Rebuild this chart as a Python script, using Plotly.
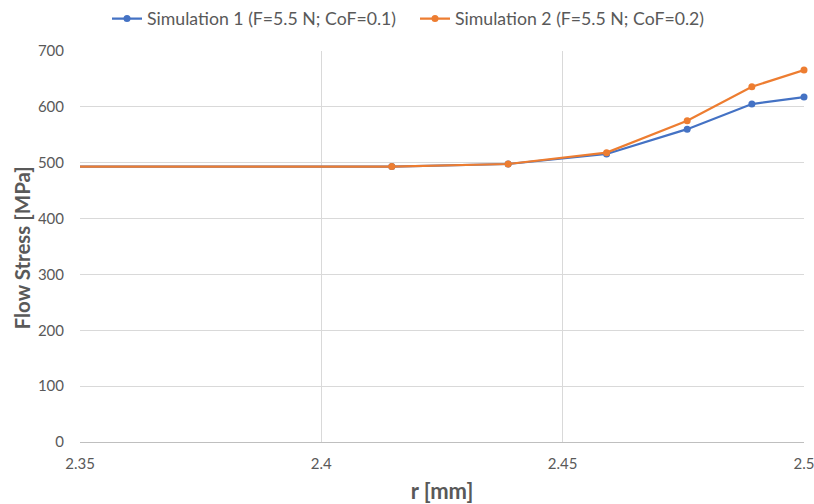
import plotly.graph_objects as go

r_vals = [2.30, 2.4146, 2.4387, 2.4591, 2.4758, 2.4892, 2.5]
sim1 = [493, 493, 497.7, 515.6, 560, 605, 617.6]
sim2 = [493, 493, 497.7, 518, 575, 636, 666]
names = ["Simulation 1 (F=5.5 N; CoF=0.1)", "Simulation 2 (F=5.5 N; CoF=0.2)"]
colors = ["#4472C4", "#ED7D31"]
x_ticks = [2.35, 2.4, 2.45, 2.5]
x_ticktext = ["2.35", "2.4", "2.45", "2.5"]
y_ticks = [0, 100, 200, 300, 400, 500, 600, 700]

FONT = "Lato"
GRAY = "#595959"

fig = go.Figure()
for name, ys, c in zip(names, [sim1, sim2], colors):
    fig.add_trace(go.Scatter(
        x=r_vals, y=ys, name=name, mode="lines+markers",
        line=dict(color=c, width=2.25),
        marker=dict(color=c, size=7),
        cliponaxis=False,
    ))

fig.update_layout(
    width=814, height=504,
    margin=dict(l=80, r=10, t=51, b=62),
    paper_bgcolor="white", plot_bgcolor="white",
    font=dict(family=FONT, color=GRAY, size=15),
    legend=dict(orientation="h", xref="container", x=107 / 814, xanchor="left",
                yref="container", y=1 - 19 / 504, yanchor="middle",
                font=dict(size=17.7, color=GRAY, family=FONT),
                itemwidth=30, entrywidth=263, entrywidthmode="pixels"),
    showlegend=True,
    annotations=[dict(
        text="<b>Flow Stress [MPa]</b>", textangle=-90,
        xref="paper", x=(21 - 80) / 724, xanchor="center",
        yref="paper", y=(442 - 248.5) / 391, yanchor="middle",
        showarrow=False, font=dict(size=20.5, color=GRAY, family=FONT),
    )],
)
fig.update_xaxes(
    range=[2.35, 2.5], tickvals=x_ticks, ticktext=x_ticktext,
    showgrid=True, gridcolor="#D9D9D9", gridwidth=1,
    showline=True, linecolor="#BFBFBF", linewidth=1,
    zeroline=False, ticks="", tickfont=dict(size=15, color=GRAY),
    ticklabelstandoff=8, automargin=False, ticklabeloverflow="allow",
    title=dict(text="<b>r [mm]</b>", font=dict(size=22, color=GRAY)),
)
fig.update_yaxes(
    range=[0, 700], tickvals=y_ticks,
    showgrid=True, gridcolor="#D9D9D9", gridwidth=1,
    showline=False, zeroline=False, ticks="",
    tickfont=dict(size=15, color=GRAY), ticklabelstandoff=15, automargin=False,
    ticklabeloverflow="allow",
)
fig.write_html("out.html")
